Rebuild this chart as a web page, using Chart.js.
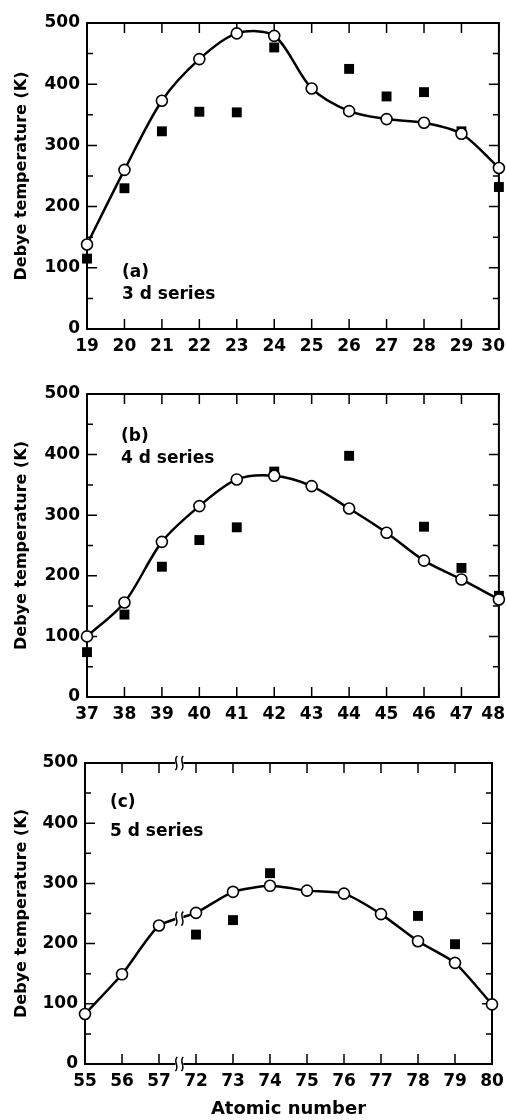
<!DOCTYPE html>
<html>
<head>
<meta charset="utf-8">
<script src="https://cdn.jsdelivr.net/npm/chart.js@4.4.1/dist/chart.umd.min.js"></script>
<style>
html, body { margin: 0; padding: 0; background: #fff; }
#wrap { position: relative; width: 506px; height: 1120px; }
.panel { position: absolute; left: 0; width: 506px; }
</style>
</head>
<body>
<div id="wrap">
  <div class="panel" style="top:0;height:370px"><canvas id="c3d"></canvas></div>
  <div class="panel" style="top:370px;height:370px"><canvas id="c4d"></canvas></div>
  <div class="panel" style="top:740px;height:380px"><canvas id="c5d"></canvas></div>
</div>
<script>
// (a) 3d series
const z3d = ['19', '20', '21', '22', '23', '24', '25', '26', '27', '28', '29', '30'];
const calc3d = [138, 260, 373, 441, 483, 479, 393, 356, 343, 337, 319, 263];
const exp3d = [115, 230, 323, 355, 354, 460, null, 425, 380, 387, 323, 232];

// (b) 4d series
const z4d = ['37', '38', '39', '40', '41', '42', '43', '44', '45', '46', '47', '48'];
const calc4d = [100, 156, 256, 315, 359, 365, 348, 311, 271, 225, 194, 161];
const exp4d = [74, 136, 215, 259, 280, 372, null, 398, null, 281, 213, 167];

// (c) 5d series (axis broken between 57 and 72)
const z5d = ['55', '56', '57', '72', '73', '74', '75', '76', '77', '78', '79', '80'];
const calc5d = [83, 149, 230, 251, 286, 296, 288, 283, 249, 204, 168, 99];
const exp5d = [null, null, null, 215, 239, 317, null, null, null, 246, 199, null];

const yTicks = [0, 100, 200, 300, 400, 500];

const FONT = '"DejaVu Sans", "Liberation Sans", Arial, sans-serif';

// box, inward tick marks, x labels kept inside the canvas, panel notes
const frame = {
  id: 'frame',
  beforeDatasetsDraw(chart) {
    const { ctx, chartArea: a, scales: { x, y } } = chart;
    ctx.save();
    ctx.strokeStyle = '#000';
    ctx.lineWidth = 2;
    ctx.strokeRect(a.left, a.top, a.right - a.left, a.bottom - a.top);
    ctx.lineWidth = 1.5;
    ctx.beginPath();
    x.ticks.forEach((t, i) => {
      const px = x.getPixelForTick(i);
      ctx.moveTo(px, a.bottom); ctx.lineTo(px, a.bottom - 10);
      ctx.moveTo(px, a.top); ctx.lineTo(px, a.top + 10);
    });
    for (let v = 50; v < 500; v += 50) {
      const py = y.getPixelForValue(v);
      const len = v % 100 === 0 ? 10 : 6;
      ctx.moveTo(a.left, py); ctx.lineTo(a.left + len, py);
      ctx.moveTo(a.right, py); ctx.lineTo(a.right - len, py);
    }
    ctx.stroke();

    ctx.fillStyle = '#000';
    ctx.font = 'bold 17px ' + FONT;
    ctx.textAlign = 'center';
    ctx.textBaseline = 'middle';
    x.ticks.forEach((t, i) => {
      const label = chart.data.labels[i];
      const w = ctx.measureText(label).width;
      const px = Math.min(x.getPixelForTick(i), chart.width - w / 2 - 1);
      ctx.fillText(label, px, a.bottom + 18);
    });
    ctx.restore();
  },
  afterDatasetsDraw(chart, args, opts) {
    const { ctx, chartArea: a } = chart;
    ctx.save();
    ctx.fillStyle = '#000';
    ctx.font = 'bold 17px ' + FONT;
    ctx.textBaseline = 'middle';
    ctx.textAlign = 'left';
    (opts.notes || []).forEach(n => ctx.fillText(n.text, a.left + n.dx, a.top + n.dy));
    ctx.restore();
  }
};

function drawBreak(ctx, cx, cy) {
  ctx.fillStyle = '#fff';
  ctx.fillRect(cx - 4, cy - 5, 8, 10);
  ctx.strokeStyle = '#000';
  ctx.lineWidth = 1.5;
  [-3, 3].forEach(dx => {
    ctx.beginPath();
    ctx.moveTo(cx + dx + 1, cy - 7);
    ctx.bezierCurveTo(cx + dx - 4, cy - 3, cx + dx + 4, cy + 3, cx + dx - 1, cy + 7);
    ctx.stroke();
  });
}

// axis break marks for panel (c)
const axisBreak = {
  id: 'axisBreak',
  afterDatasetsDraw(chart, args, opts) {
    if (opts.at == null) return;
    const { ctx, chartArea: a, scales: { x } } = chart;
    const bx = x.getPixelForValue(opts.at);
    const pts = chart.getDatasetMeta(0).data;
    const p0 = pts[Math.floor(opts.at)], p1 = pts[Math.ceil(opts.at)];
    const f = (bx - p0.x) / (p1.x - p0.x);
    ctx.save();
    drawBreak(ctx, bx, a.top);
    drawBreak(ctx, bx, a.bottom);
    drawBreak(ctx, bx, p0.y + f * (p1.y - p0.y));
    ctx.restore();
  }
};

function makePanel(id, labels, calc, exp, opt) {
  new Chart(document.getElementById(id), {
    type: 'line',
    data: {
      labels: labels,
      datasets: [
        {
          data: calc,
          borderColor: '#000',
          borderWidth: 2.5,
          tension: opt.tension,
          pointStyle: 'circle',
          pointRadius: 5.5,
          pointBorderWidth: 1.6,
          pointBackgroundColor: '#fff',
          pointBorderColor: '#000',
          clip: false
        },
        {
          data: exp,
          showLine: false,
          pointStyle: 'rect',
          pointRadius: 7,
          pointBorderWidth: 0,
          pointBackgroundColor: '#000',
          pointBorderColor: '#000',
          clip: false
        }
      ]
    },
    options: {
      responsive: true,
      maintainAspectRatio: false,
      animation: false,
      layout: { padding: { top: opt.top, right: opt.right, left: 0, bottom: 0 } },
      plugins: {
        legend: { display: false },
        tooltip: { enabled: false },
        frame: { notes: opt.notes },
        axisBreak: { at: opt.breakAt }
      },
      scales: {
        x: {
          type: 'category',
          offset: false,
          grid: { display: false, drawTicks: false },
          border: { display: false },
          ticks: { display: false, autoSkip: false },
          title: {
            display: !!opt.xTitle,
            text: opt.xTitle || '',
            color: '#000',
            padding: { top: 0, bottom: 0 },
            font: { family: FONT, weight: 'bold', size: 18 }
          },
          afterFit: s => {
            s.height = opt.xh;
            s.paddingLeft = 0;
            s.paddingRight = 0;
          }
        },
        y: {
          min: 0,
          max: 500,
          grid: { display: false, drawTicks: false },
          border: { display: false },
          afterBuildTicks: s => { s.ticks = yTicks.map(v => ({ value: v })); },
          ticks: {
            color: '#000',
            padding: 7,
            font: { family: FONT, weight: 'bold', size: 17 }
          },
          title: {
            display: true,
            text: 'Debye temperature (K)',
            color: '#000',
            padding: { top: 12, bottom: 0 },
            font: { family: FONT, weight: 'bold', size: 16 }
          },
          afterFit: s => {
            s.width = opt.yw;
            s.paddingTop = 0;
            s.paddingBottom = 0;
          }
        }
      }
    },
    plugins: [frame, axisBreak]
  });
}

makePanel('c3d', z3d, calc3d, exp3d, {
  top: 23, right: 6, xh: 41, yw: 87, tension: 0.3,
  notes: [{ text: '(a)', dx: 35, dy: 250 }, { text: '3 d series', dx: 35, dy: 272 }]
});
makePanel('c4d', z4d, calc4d, exp4d, {
  top: 24, right: 6, xh: 43, yw: 87, tension: 0.3,
  notes: [{ text: '(b)', dx: 34, dy: 43 }, { text: '4 d series', dx: 34, dy: 65 }]
});
makePanel('c5d', z5d, calc5d, exp5d, {
  top: 23, right: 14, xh: 56, yw: 85, tension: 0.2, breakAt: 2.55, xTitle: 'Atomic number',
  notes: [{ text: '(c)', dx: 25, dy: 40 }, { text: '5 d series', dx: 25, dy: 69 }]
});
</script>
</body>
</html>
